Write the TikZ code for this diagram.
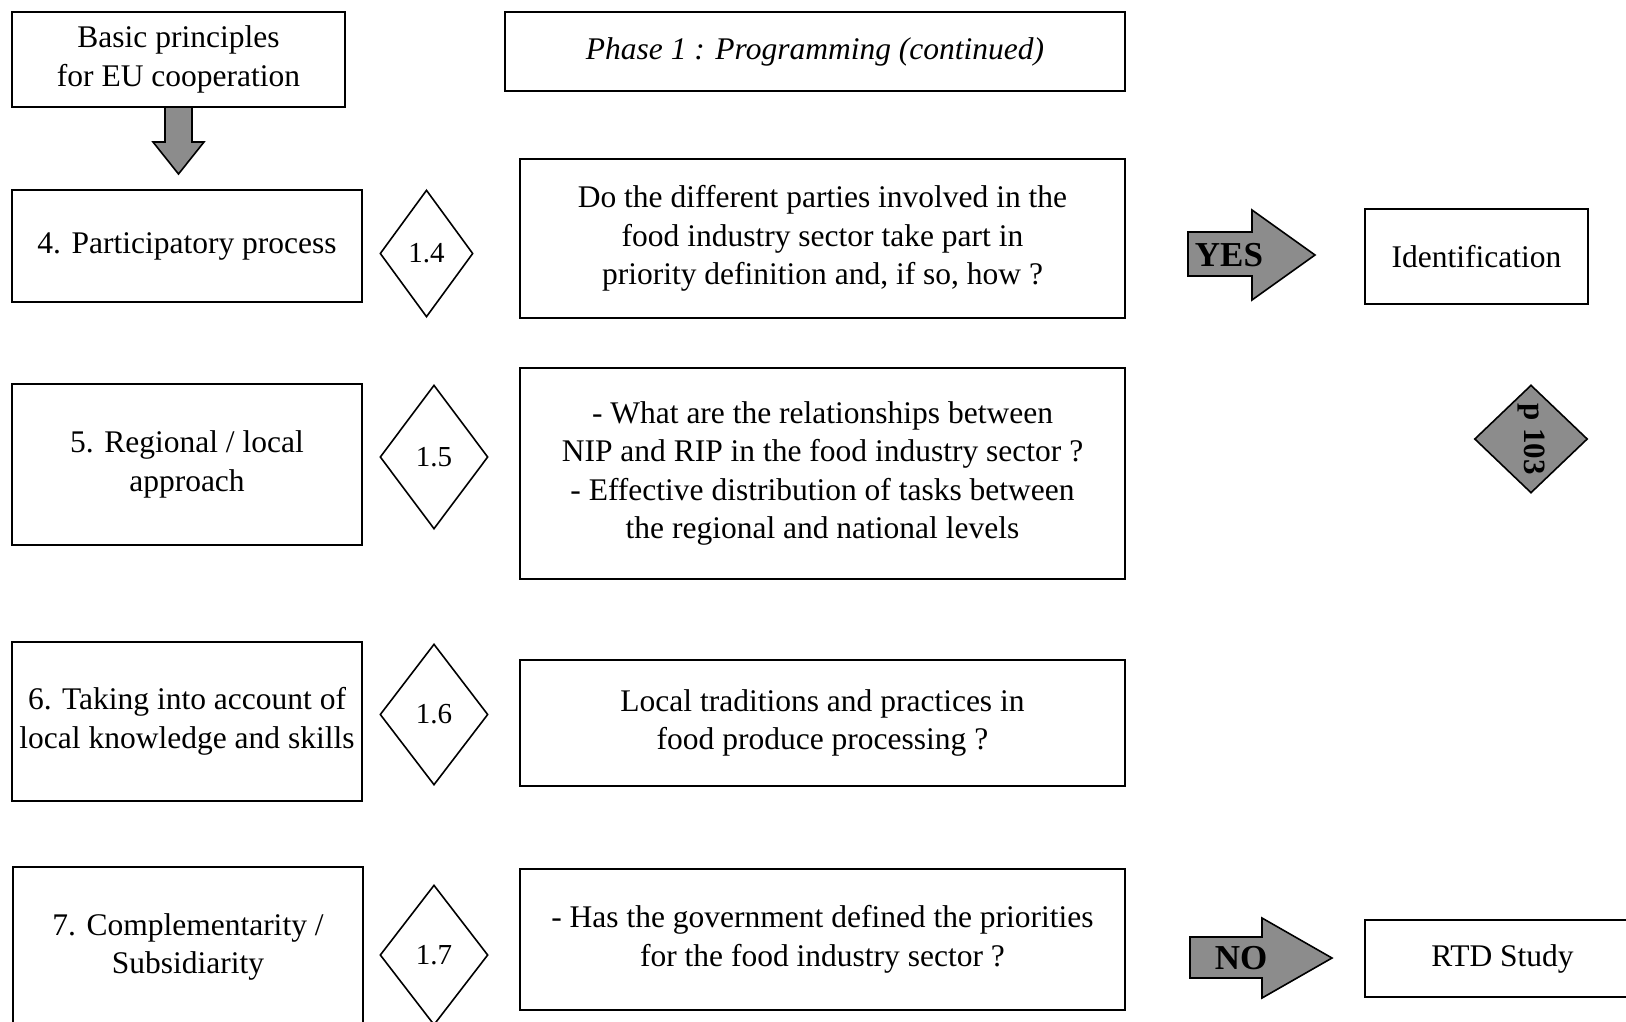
\documentclass[tikz,border=0pt]{standalone}
\usepackage{fontspec}
\setmainfont{Liberation Serif}
\usetikzlibrary{shapes.geometric}
\begin{document}
\begin{tikzpicture}[x=1pt,y=-1pt,
  box/.style={draw, line width=1.8pt, inner sep=0pt, align=center, font=\fontsize{31.5}{38.5}\selectfont},
  dia/.style={draw, shape=diamond, line width=1.6pt, inner sep=0pt, font=\fontsize{29}{35}\selectfont},
  blk/.style={draw, line width=1.6pt, fill=black!45},
  blktext/.style={font=\fontsize{35}{38}\selectfont\bfseries, inner sep=0pt}]
\useasboundingbox (0,0) rectangle (1626,1021);
\fill[white] (0,0) rectangle (1626,1021);

% left column
\node[box, minimum width=333, minimum height=95] (basic) at (178.5,59.5) {Basic principles\\for EU cooperation};
\node[box, minimum width=350, minimum height=112] (p4) at (187,246) {4. Participatory process};
\node[box, minimum width=350, minimum height=161] (p5) at (187,464.5) {5. Regional / local\\approach};
\node[box, minimum width=350, minimum height=159] (p6) at (187,721.5) {6. Taking into account of\\local knowledge and skills};
\node[box, minimum width=350, minimum height=160] (p7) at (188,947) {7. Complementarity /\\Subsidiarity};

% down arrow
\draw[blk] (165,107) -- (192,107) -- (192,142) -- (204,142) -- (178.5,174) -- (153,142) -- (165,142) -- cycle;

% diamonds
\node[dia, minimum width=93, minimum height=127] (d4) at (426.5,253.5) {1.4};
\node[dia, minimum width=108, minimum height=144] (d5) at (434,457) {1.5};
\node[dia, minimum width=108, minimum height=141] (d6) at (434,714.5) {1.6};
\node[dia, minimum width=108, minimum height=140] (d7) at (434,955) {1.7};

% middle column
\node[box, minimum width=620, minimum height=79, font=\fontsize{31.5}{38.5}\selectfont\itshape] (phase) at (815,51.5) {Phase 1 : Programming (continued)};
\node[box, minimum width=605, minimum height=159] (q4) at (822.5,238.5) {Do the different parties involved in the\\food industry sector take part in\\priority definition and, if so, how ?};
\node[box, minimum width=605, minimum height=211] (q5) at (822.5,473.5) {- What are the relationships between\\NIP and RIP in the food industry sector ?\\- Effective distribution of tasks between\\the regional and national levels};
\node[box, minimum width=605, minimum height=126] (q6) at (822.5,723) {Local traditions and practices in\\food produce processing ?};
\node[box, minimum width=605, minimum height=141] (q7) at (822.5,939.5) {- Has the government defined the priorities\\for the food industry sector ?};

% right column
\draw[blk] (1188,232) -- (1252,232) -- (1252,210) -- (1315,255) -- (1252,300) -- (1252,276) -- (1188,276) -- cycle;
\node[blktext] (yes) at (1229,255) {YES};
\node[box, minimum width=223, minimum height=95] (ident) at (1476.5,256.5) {Identification};

\node[draw, shape=diamond, line width=1.6pt, fill=black!45, minimum width=113, minimum height=108, inner sep=0pt] (p103) at (1531,439) {};
\node[rotate=-90, font=\fontsize{31}{34}\selectfont\bfseries, inner sep=0pt] (p103t) at (p103.center) {p 103};

\draw[blk] (1190,937) -- (1262,937) -- (1262,918) -- (1332,958) -- (1262,998) -- (1262,978) -- (1190,978) -- cycle;
\node[blktext] (no) at (1241,958) {NO};
\node[box, minimum width=275, minimum height=77] (rtd) at (1502.5,958.5) {RTD Study};
\end{tikzpicture}
\end{document}
